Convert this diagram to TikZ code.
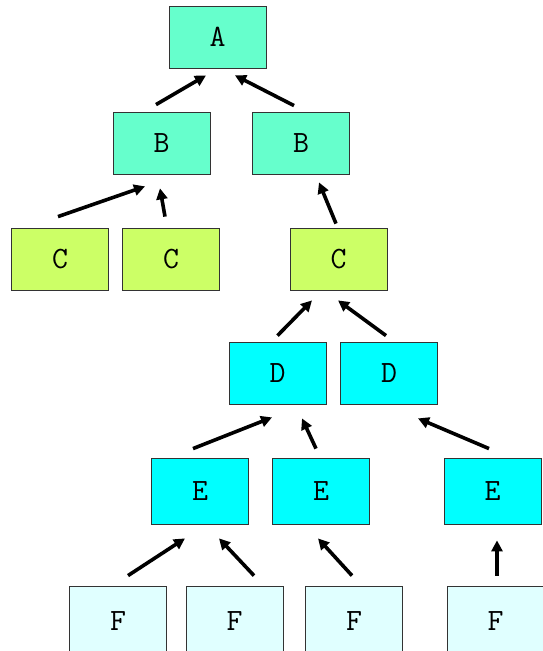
\documentclass[tikz,border=0pt]{standalone}
\usepackage{xcolor}
\usepackage{tikz}
\usetikzlibrary{arrows.meta}
\definecolor{aqua}{HTML}{66FFCC}
\definecolor{lime}{HTML}{CCFF66}
\definecolor{cyanbox}{HTML}{00FFFF}
\definecolor{pale}{HTML}{E0FFFF}

\begin{document}
\begin{tikzpicture}[x=1pt,y=1pt,
  box/.style={draw=black!80,line width=0.8pt,minimum width=97pt,minimum height=62pt,
    font=\ttfamily\fontsize{31}{34}\selectfont},
  up/.style={-{Triangle[length=11pt,width=11pt]},line width=3.6pt}]
\useasboundingbox (0,0) rectangle (543,651);
% levels
\node[box,fill=aqua] (A) at (217.5,614){A};
\node[box,fill=aqua] (B1) at (161.5,508){B};
\node[box,fill=aqua] (B2) at (301,508){B};
\node[box,fill=lime] (C1) at (60,392){C};
\node[box,fill=lime] (C2) at (171,392){C};
\node[box,fill=lime] (C3) at (338.5,392){C};
\node[box,fill=cyanbox] (D1) at (277.5,278){D};
\node[box,fill=cyanbox] (D2) at (389,278){D};
\node[box,fill=cyanbox,minimum height=66pt] (E1) at (200,160){E};
\node[box,fill=cyanbox,minimum height=66pt] (E2) at (321,160){E};
\node[box,fill=cyanbox,minimum height=66pt] (E3) at (492.5,160){E};
\node[box,fill=pale,minimum height=70pt] (F1) at (118,30){F};
\node[box,fill=pale,minimum height=70pt] (F2) at (234.5,30){F};
\node[box,fill=pale,minimum height=70pt] (F3) at (354,30){F};
\node[box,fill=pale,minimum height=70pt] (F4) at (495.5,30){F};
% arrows to the parents
\draw[up] ([shift={(-5.5,7)}]B1.north) -- ([shift={(-11.5,-7)}]A.south);
\draw[up] ([shift={(-7,6)}]B2.north) -- ([shift={(17.5,-7)}]A.south);
\draw[up] ([shift={(-2,11)}]C1.north) -- ([shift={(-16.5,-12)}]B1.south);
\draw[up] ([shift={(-6,11)}]C2.north) -- ([shift={(-1.5,-14)}]B1.south);
\draw[up] ([shift={(-2.5,4)}]C3.north) -- ([shift={(18,-8)}]B2.south);
\draw[up] ([shift={(0,6)}]D1.north) -- ([shift={(-26.5,-10)}]C3.south);
\draw[up] ([shift={(-3,6)}]D2.north) -- ([shift={(-0.5,-10)}]C3.south);
\draw[up] ([shift={(-7,9)}]E1.north) -- ([shift={(-5.5,-13)}]D1.south);
\draw[up] ([shift={(-5,9)}]E2.north) -- ([shift={(24.5,-14)}]D1.south);
\draw[up] ([shift={(-3.5,9)}]E3.north) -- ([shift={(29,-14)}]D2.south);
\draw[up] ([shift={(10,10)}]F1.north) -- ([shift={(-15,-14)}]E1.south);
\draw[up] ([shift={(19.5,10)}]F2.north) -- ([shift={(19,-14)}]E1.south);
\draw[up] ([shift={(-2,10)}]F3.north) -- ([shift={(-3,-14)}]E2.south);
\draw[up] ([shift={(1.5,10)}]F4.north) -- ([shift={(4.5,-16)}]E3.south);
\end{tikzpicture}
\end{document}
